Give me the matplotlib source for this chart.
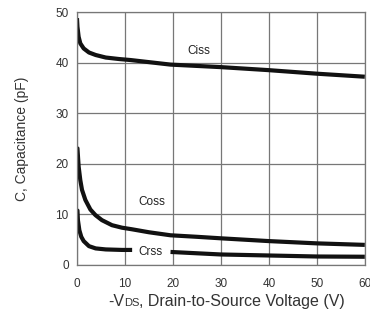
import matplotlib
matplotlib.use('Agg')
import matplotlib.pyplot as plt
from matplotlib.offsetbox import TextArea, HPacker, AnchoredOffsetbox

plt.rcParams['font.family'] = ['Liberation Sans', 'DejaVu Sans']

# values
ciss_v = [0, 0.1, 0.35, 0.7, 1.4, 2.5, 3.9, 6.0, 8.8, 11.2, 19.5, 30, 40, 50, 60]
ciss_c = [48.8, 47.1, 45.1, 43.8, 42.8, 42.0, 41.5, 41.0, 40.7, 40.5, 39.6, 39.1, 38.5, 37.8, 37.2]

coss_v = [0, 0.1, 0.35, 0.7, 1.05, 1.75, 2.8, 3.85, 5.2, 7.3, 9.4, 11.4, 15, 19.5, 25, 30, 40, 50, 60]
coss_c = [23.2, 23.0, 19.4, 16.7, 14.8, 12.8, 10.9, 9.8, 8.8, 7.8, 7.3, 7.0, 6.4, 5.8, 5.5, 5.2, 4.65, 4.2, 3.9]

crss_v = [0, 0.1, 0.2, 0.5, 0.9, 1.4, 2.5, 3.9, 6.0, 9.4, 11.5, 19.5, 30, 40, 50, 60]
crss_c = [10.8, 10.7, 8.8, 6.8, 5.5, 4.65, 3.65, 3.2, 3.0, 2.9, 2.9, 2.5, 2.0, 1.8, 1.6, 1.55]
crss_gap = 11.5  # line stops here, label "Crss" sits in the gap

x_ticks = [0, 10, 20, 30, 40, 50, 60]
y_ticks = [0, 10, 20, 30, 40, 50]

fig = plt.figure(figsize=(3.7, 3.18), dpi=100)
ax = fig.add_axes([0.208, 0.168, 0.778, 0.794])

lw = 3.0
col = '#111111'
ax.plot(ciss_v, ciss_c, color=col, lw=lw, solid_capstyle='butt', solid_joinstyle='round')
ax.plot(coss_v, coss_c, color=col, lw=lw, solid_capstyle='butt', solid_joinstyle='round')
n = crss_v.index(crss_gap) + 1
ax.plot(crss_v[:n], crss_c[:n], color=col, lw=lw, solid_capstyle='butt', solid_joinstyle='round')
ax.plot(crss_v[n:], crss_c[n:], color=col, lw=lw, solid_capstyle='butt', solid_joinstyle='round')

ax.text(25.4, 42.3, 'Ciss', fontsize=8.5, color='#222222', ha='center', va='center')
ax.text(15.6, 12.3, 'Coss', fontsize=8.5, color='#222222', ha='center', va='center')
ax.text(15.4, 2.5, 'Crss', fontsize=8.5, color='#222222', ha='center', va='center')

ax.set_xlim(0, 60)
ax.set_ylim(0, 50)
ax.set_xticks(x_ticks)
ax.set_yticks(y_ticks)
ax.tick_params(length=0, labelsize=8.5, labelcolor='#333333')
ax.tick_params(axis='y', pad=6)
ax.tick_params(axis='x', pad=10)
ax.grid(True, color='#777777', lw=0.9)
for s in ax.spines.values():
    s.set_color('#777777')
    s.set_linewidth(0.9)

ax.set_ylabel('C, Capacitance (pF)', fontsize=10, color='#333333', labelpad=19)

# x label with small "DS"
tprops = dict(fontsize=11.5, color='#333333')
parts = [TextArea('-V', textprops=tprops),
         TextArea('DS', textprops=dict(fontsize=8, color='#333333')),
         TextArea(', Drain-to-Source Voltage (V)', textprops=tprops)]
box = HPacker(children=parts, align='baseline', pad=0, sep=0)
anch = AnchoredOffsetbox(loc='upper center', child=box, frameon=False,
                         bbox_to_anchor=(0.52, -0.117), bbox_transform=ax.transAxes,
                         borderpad=0, pad=0)
ax.add_artist(anch)

fig.savefig('out.png', dpi=100)
